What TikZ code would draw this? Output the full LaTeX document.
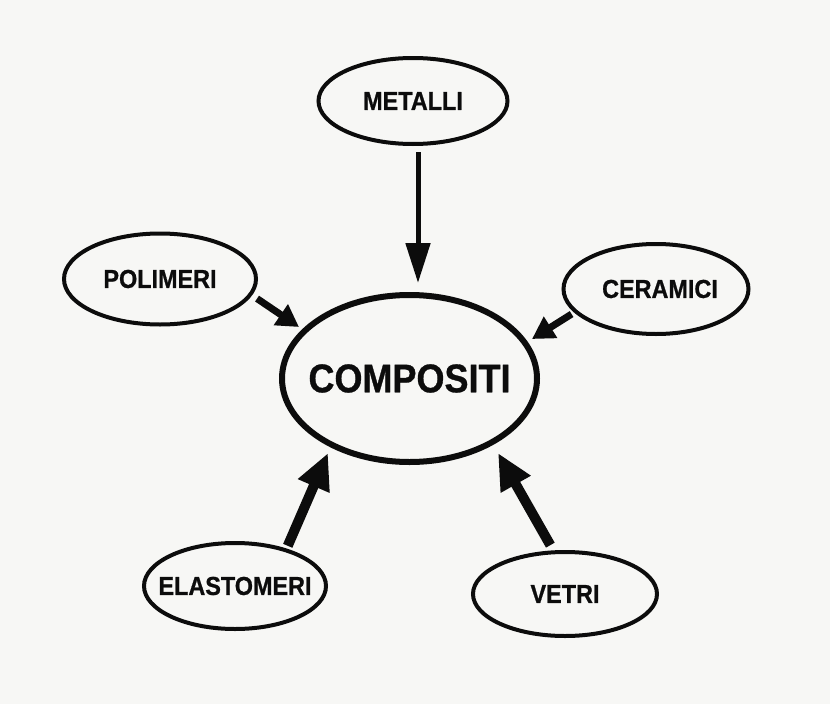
\documentclass[tikz,border=0pt]{standalone}
\usepackage{fontspec}
\setmainfont{Liberation Sans}
\newfontfamily\labelfont[FakeStretch=0.9,FakeBold=0.8]{Liberation Sans}
\usetikzlibrary{arrows.meta,shapes.geometric}
\definecolor{paper}{RGB}{247,247,245}
\definecolor{ink}{RGB}{12,12,12}
% zero-width label, so the ellipse size is set by minimum width/height only
\newcommand{\tightlabel}[1]{\makebox[0pt]{#1}}

\begin{document}
\begin{tikzpicture}[x=1pt,y=-1pt,
  material/.style={ellipse, draw=ink, line width=4pt, inner sep=0pt,
    text=ink, font=\labelfont\bfseries\fontsize{26}{26}\selectfont},
  hub/.style={ellipse, draw=ink, line width=6pt, inner sep=0pt,
    text=ink, font=\labelfont\bfseries\fontsize{40}{40}\selectfont},
  thin feed/.style={draw=ink, line width=5pt,
    -{Triangle[length=40pt,width=24pt]}},
  mid feed/.style={draw=ink, line width=7pt,
    -{Triangle[length=22pt,width=24pt]}},
  thick feed/.style={draw=ink, line width=10pt,
    -{Triangle[length=36pt,width=32pt]}}]

  % sheet
  \path[fill=paper] (0,0) rectangle (830,704);

  % central node and the five families of materials
  \node[hub, minimum width=255pt, minimum height=167pt] (comp) at (409.5,378.5) {\tightlabel{COMPOSITI}};
  \node[material, minimum width=189pt, minimum height=86pt] (met) at (413,101) {\tightlabel{METALLI}};
  \node[material, minimum width=192pt, minimum height=91pt] (pol) at (160,279) {\tightlabel{POLIMERI}};
  \node[material, minimum width=185pt, minimum height=90pt] (cer) at (656,289) {\tightlabel{\hspace*{8pt}CERAMICI}};
  \node[material, minimum width=182pt, minimum height=86pt] (ela) at (235,586) {\tightlabel{ELASTOMERI}};
  \node[material, minimum width=184pt, minimum height=84pt] (vet) at (565,594) {\tightlabel{VETRI}};

  % arrow tips, just outside the central ellipse
  \coordinate (tipM) at (418,283);
  \coordinate (tipP) at (299,327);
  \coordinate (tipC) at (532,339);
  \coordinate (tipE) at (328,453);
  \coordinate (tipV) at (498,453);

  % connectors
  \draw[thin feed, shorten <=6pt] (met.south -| tipM) -- (tipM);
  \draw[mid feed, shorten <=6pt] (pol.-10) -- (tipP);
  \draw[mid feed, shorten <=3pt] (cer.-164) -- (tipC);
  \draw[thick feed, shorten <=3pt] (ela.36) -- (tipE);
  \draw[thick feed, shorten <=6pt] (vet.105) -- (tipV);
\end{tikzpicture}
\end{document}
